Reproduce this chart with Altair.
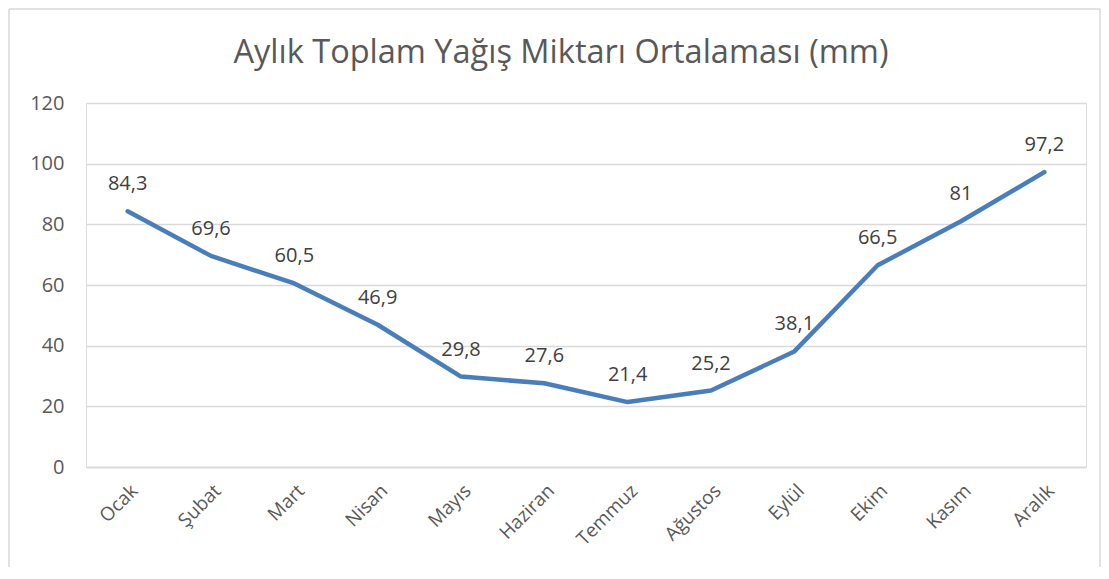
import altair as alt
import pandas as pd

months = ["Ocak", "Şubat", "Mart", "Nisan", "Mayıs", "Haziran", "Temmuz",
          "Ağustos", "Eylül", "Ekim", "Kasım", "Aralık"]
values = [84.3, 69.6, 60.5, 46.9, 29.8, 27.6, 21.4, 25.2, 38.1, 66.5, 81, 97.2]
labels = [("%g" % v).replace(".", ",") for v in values]
title_text = "Aylık Toplam Yağış Miktarı Ortalaması (mm)"

df = pd.DataFrame({"ay": months, "mm": values, "etiket": labels})

FONT = "Open Sans"
GRAY = "#595959"
LINE = "#D9D9D9"

x = alt.X("ay:N", sort=months, title=None,
          scale=alt.Scale(type="point", padding=0.5),
          axis=alt.Axis(labelAngle=-45, labelAlign="right", labelBaseline="top",
                        labelFontSize=19, labelColor=GRAY, labelFont=FONT,
                        ticks=False, domainColor=LINE, domainWidth=1.5,
                        labelPadding=14, grid=False))
y = alt.Y("mm:Q", title=None,
          scale=alt.Scale(domain=[0, 120], nice=False),
          axis=alt.Axis(values=[0, 20, 40, 60, 80, 100, 120], labelFontSize=20,
                        labelColor=GRAY, labelFont=FONT, ticks=False, domain=False,
                        gridColor=LINE, gridWidth=1.5, labelPadding=22))

base = alt.Chart(df)

line = base.mark_line(color="#4A7EBB", strokeWidth=4.5, strokeCap="round",
                      strokeJoin="round").encode(x=x, y=y)
text = base.mark_text(dy=-27, fontSize=20, font=FONT, color="#404040").encode(
    x=x, y=y, text="etiket:N")

# decorative outer frame of the chart (pixel-positioned, not data)
one = pd.DataFrame({"t": [title_text]})
frame = alt.Chart(one)
bw = dict(color=LINE, strokeWidth=1.5)
b_left = frame.mark_rule(**bw).encode(
    x=alt.value(-77), y=alt.value(-94), y2=alt.value(470))
b_right = frame.mark_rule(**bw).encode(
    x=alt.value(1014), y=alt.value(-94), y2=alt.value(470))
b_top = frame.mark_rule(**bw).encode(
    x=alt.value(-77), x2=alt.value(1014), y=alt.value(-94))

title = frame.mark_text(
    fontSize=32.5, font=FONT, color=GRAY, baseline="alphabetic",
    align="center").encode(x=alt.value(475), y=alt.value(-40), text="t:N")

chart = alt.layer(b_left, b_right, b_top, line, text, title).properties(
    width=1000, height=364,
    autosize=alt.AutoSizeParams(type="none"),
    padding={"left": 78, "top": 95, "right": 15, "bottom": 100},
).configure_view(stroke="transparent", strokeWidth=0).configure(background="white")

chart.save("out.html", embed_options={"renderer": "svg", "actions": False})
